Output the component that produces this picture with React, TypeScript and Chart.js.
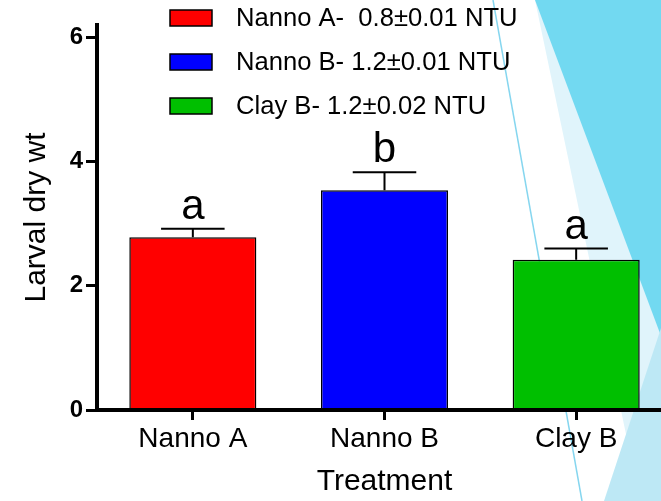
import React, { useEffect, useRef } from "react";
import { Chart, registerables } from "chart.js";

Chart.register(...registerables);

const categories = ["Nanno A", "Nanno B", "Clay B"];
const meanValues = [2.78, 3.54, 2.42];
const semValues = [0.14, 0.29, 0.18];
const letters = ["a", "b", "a"];
const legendLabels = ["Nanno A-  0.8±0.01 NTU", "Nanno B- 1.2±0.01 NTU", "Clay B- 1.2±0.02 NTU"];
const barColors = ["#FF0000", "#0000FF", "#00BF00"];
const yTicks = [0, 2, 4, 6];
const yMin = 0;
const yMax = 6.2;

const FONT = "'Liberation Sans', Arial, Helvetica, sans-serif";

const backgroundPlugin = {
  id: "slideBackground",
  beforeDraw(chart: any) {
    const ctx = chart.ctx;
    ctx.save();
    ctx.fillStyle = "#FFFFFF";
    ctx.fillRect(0, 0, chart.width, chart.height);
    // pale strip
    ctx.fillStyle = "#E0F4FB";
    ctx.beginPath();
    ctx.moveTo(535, 0);
    ctx.lineTo(700, 0);
    ctx.lineTo(700, 501);
    ctx.lineTo(640, 501);
    ctx.closePath();
    ctx.fill();
    // dark triangle
    ctx.fillStyle = "#72D9F1";
    ctx.beginPath();
    ctx.moveTo(535, 0);
    ctx.lineTo(700, 0);
    ctx.lineTo(700, 440);
    ctx.closePath();
    ctx.fill();
    // lower lighter triangle
    ctx.fillStyle = "#BDE8F5";
    ctx.beginPath();
    ctx.moveTo(662, 325);
    ctx.lineTo(700, 325);
    ctx.lineTo(700, 501);
    ctx.lineTo(604, 501);
    ctx.closePath();
    ctx.fill();
    // thin line
    ctx.strokeStyle = "#86D6EF";
    ctx.lineWidth = 1.5;
    ctx.beginPath();
    ctx.moveTo(493, 0);
    ctx.lineTo(582, 501);
    ctx.stroke();
    ctx.restore();
  },
};

const errorBarPlugin = {
  id: "errorBars",
  afterDatasetsDraw(chart: any) {
    const ctx = chart.ctx;
    const meta = chart.getDatasetMeta(0);
    const y = chart.scales.y;
    ctx.save();
    ctx.strokeStyle = "#000";
    ctx.lineWidth = 2;
    meta.data.forEach((bar: any, i: number) => {
      const x = bar.x;
      const yBar = y.getPixelForValue(meanValues[i]);
      const yTop = y.getPixelForValue(meanValues[i] + semValues[i]);
      const half = bar.width / 4;
      ctx.beginPath();
      ctx.moveTo(x, yBar);
      ctx.lineTo(x, yTop);
      ctx.moveTo(x - half, yTop);
      ctx.lineTo(x + half, yTop);
      ctx.stroke();
      ctx.fillStyle = "#000";
      ctx.font = `42px ${FONT}`;
      ctx.textAlign = "center";
      ctx.textBaseline = "alphabetic";
      ctx.fillText(letters[i], x, yTop - 10);
    });
    ctx.restore();
  },
};

const legendPlugin = {
  id: "customLegend",
  afterDraw(chart: any) {
    const ctx = chart.ctx;
    ctx.save();
    legendLabels.forEach((label, i) => {
      const top = 10 + i * 44;
      ctx.fillStyle = barColors[i];
      ctx.fillRect(170, top, 42, 16);
      ctx.strokeStyle = "#000";
      ctx.lineWidth = 1.5;
      ctx.strokeRect(170, top, 42, 16);
      ctx.fillStyle = "#000";
      ctx.font = `25.6px ${FONT}`;
      ctx.textAlign = "left";
      ctx.textBaseline = "middle";
      ctx.fillText(label, 236, top + 9);
    });
    ctx.restore();
  },
};

export default function App() {
  const canvasRef = useRef<HTMLCanvasElement | null>(null);

  useEffect(() => {
    if (!canvasRef.current) return;
    const chart = new Chart(canvasRef.current, {
      type: "bar",
      data: {
        labels: categories,
        datasets: [
          {
            data: meanValues,
            backgroundColor: barColors,
            borderColor: "#000",
            borderWidth: 1.5,
            borderSkipped: false,
            barPercentage: 0.663,
            categoryPercentage: 1,
          },
        ],
      },
      options: {
        animation: false,
        responsive: false,
        maintainAspectRatio: false,
        devicePixelRatio: 1,
        layout: { padding: { top: 25, right: 8, bottom: 0, left: 0 } },
        plugins: {
          legend: { display: false },
          tooltip: { enabled: false },
          title: { display: false },
        },
        scales: {
          x: {
            type: "category",
            z: 1,
            offset: true,
            border: { display: true, color: "#000", width: 4 },
            grid: {
              offset: false,
              drawOnChartArea: false,
              drawTicks: true,
              tickLength: 10,
              tickWidth: 3,
              tickColor: "#000",
            },
            ticks: {
              color: "#000",
              font: { family: FONT, size: 28 },
              padding: 2,
              maxRotation: 0,
            },
            title: {
              display: true,
              text: "Treatment",
              color: "#000",
              font: { family: FONT, size: 30 },
              padding: { top: 0, bottom: 1 },
            },
            afterFit(scale: any) {
              scale.height = 91;
            },
          },
          y: {
            min: yMin,
            max: yMax,
            z: 1,
            border: { display: true, color: "#000", width: 4 },
            grid: {
              drawOnChartArea: false,
              drawTicks: true,
              tickLength: 11,
              tickWidth: 3,
              tickColor: "#000",
            },
            ticks: {
              color: "#000",
              font: { family: FONT, size: 24, weight: "bold" },
              padding: 3,
              includeBounds: false,
            },
            afterBuildTicks(scale: any) {
              scale.ticks = yTicks.map((v) => ({ value: v }));
            },
            title: {
              display: true,
              text: "Larval dry wt",
              color: "#000",
              font: { family: FONT, size: 30 },
              padding: { top: 19, bottom: 0 },
            },
            afterFit(scale: any) {
              scale.width = 97;
            },
          },
        },
      },
      plugins: [backgroundPlugin, errorBarPlugin, legendPlugin],
    });
    return () => chart.destroy();
  }, []);

  return (
    <div
      style={{
        position: "fixed",
        left: 0,
        top: 0,
        width: 661,
        height: 501,
        overflow: "hidden",
        background: "#fff",
      }}
    >
      <canvas ref={canvasRef} width={680} height={501} style={{ width: 680, height: 501, display: "block" }} />
    </div>
  );
}
